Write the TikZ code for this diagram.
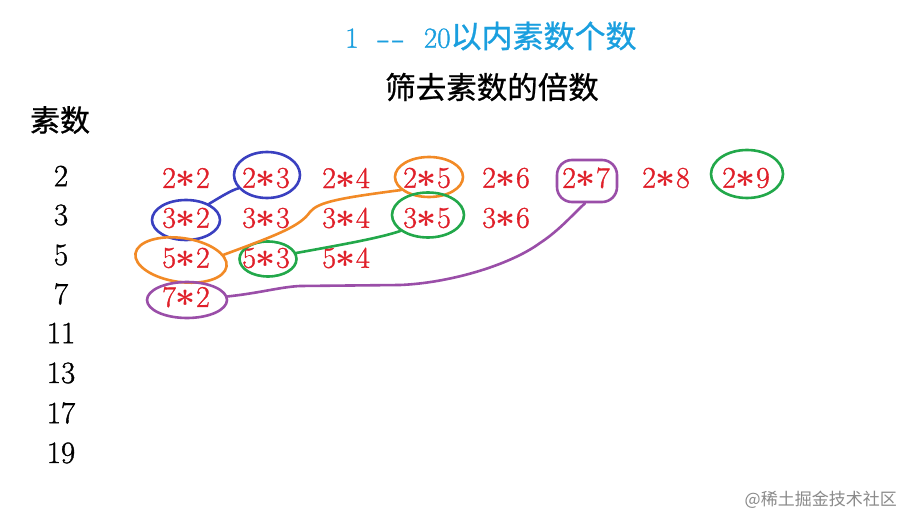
\documentclass[tikz,border=0pt]{standalone}
\usepackage{fontspec}
\newfontfamily\cjk{Noto Sans CJK SC}
\newfontfamily\cjkb{Noto Sans CJK SC}[FakeBold=0.8]
\newfontfamily\heavyrm{Latin Modern Roman}[FakeBold=1.2]
\usetikzlibrary{shapes.geometric}
\definecolor{tblue}{HTML}{1A9FDF}
\definecolor{pred}{HTML}{E0202A}
\definecolor{cblue}{HTML}{3A40C0}
\definecolor{corange}{HTML}{F28A26}
\definecolor{cgreen}{HTML}{22A84A}
\definecolor{cpurple}{HTML}{9A4EA8}
\definecolor{wgray}{HTML}{8A8A8A}
\newcommand\mystar{\scalebox{1.4}{\boldmath$\ast$}}
\newcommand\myhy{\scalebox{1.45}[1]{-}}
\begin{document}
\begin{tikzpicture}[x=1pt,y=-1pt,
  prod/.style={text=pred, font=\heavyrm\fontsize{30}{32}\selectfont, inner sep=0pt},
  prime/.style={font=\heavyrm\fontsize{31}{32}\selectfont, inner sep=0pt},
  ring/.style={draw=#1, ellipse, line width=2.6pt, inner sep=0pt},
  link/.style={draw=#1, line width=2.6pt, line cap=round},
]
\useasboundingbox (0,0) rectangle (912,529);
\fill[white] (0,0) rectangle (912,529);

% titles
\node[anchor=west, text=tblue, inner sep=0pt, font=\heavyrm\fontsize{29}{30}\selectfont] (title) at (345,36)
  {1\hspace{19pt}\myhy\kern2pt\myhy\hspace{19pt}20{\cjkb\fontsize{31}{32}\selectfont 以内素数个数}};
\node[inner sep=0pt, font=\cjkb\fontsize{30.5}{32}\selectfont] (sub) at (492,87) {筛去素数的倍数};
\node[inner sep=0pt, font=\cjkb\fontsize{30}{32}\selectfont] (head) at (60,120) {素数};

% primes
\node[prime] (n2) at (61,176) {2};
\node[prime] (n3) at (61,215) {3};
\node[prime] (n5) at (61,255) {5};
\node[prime] (n7) at (61,294) {7};
\node[prime] (n11) at (61,333) {11};
\node[prime] (n13) at (61,373) {13};
\node[prime] (n17) at (61,413) {17};
\node[prime] (n19) at (61,453) {19};

% products
\foreach \k/\x in {2/186,3/266,4/346,5/427,6/506,7/586,8/666,9/746}
  \node[prod] (p2\k) at (\x,178) {2\mystar\k};
\foreach \k/\x in {2/186,3/266,4/346,5/427,6/506}
  \node[prod] (p3\k) at (\x,218) {3\mystar\k};
\foreach \k/\x in {2/186,3/266,4/346}
  \node[prod] (p5\k) at (\x,258) {5\mystar\k};
\node[prod] (p72) at (186,297) {7\mystar2};

% rings
\node[ring=cblue, minimum width=66, minimum height=46] (c23) at (267,175) {};
\node[ring=cblue, minimum width=68, minimum height=40] (c32) at (186,220) {};
\node[ring=corange, minimum width=68, minimum height=40] (c25) at (429,177) {};
\node[ring=corange, minimum width=92, minimum height=44, rotate=-8] (c52) at (181,260) {};
\node[ring=cgreen, minimum width=72, minimum height=45] (c35) at (428,215) {};
\node[ring=cgreen, minimum width=57, minimum height=35] (c53) at (268,259) {};
\node[ring=cgreen, minimum width=72, minimum height=48] (c29) at (747,174) {};
\node[draw=cpurple, line width=2.6pt, rounded corners=15pt, minimum width=60, minimum height=42, inner sep=0pt] (c27) at (587,181) {};
\node[ring=cpurple, minimum width=80, minimum height=36] (c72) at (187,300) {};

% links
\draw[link=cblue] (c32.35) .. controls (222,196) and (232,190) .. (c23.205);
\draw[link=corange] (c52.15) .. controls (280,234) and (300,226) .. (310,212)
  .. controls (318,202) and (340,198) .. (c25.205);
\draw[link=cgreen] (c53.12) .. controls (340,245) and (380,238) .. (c35.210);
\draw[link=cpurple] (c72.5) .. controls (260,293) and (280,287) .. (300,286)
  -- (400,285) .. controls (450,283) and (510,265) .. (540,243)
  .. controls (560,230) and (575,212) .. (c27.265);

% watermark
\node[anchor=east, inner sep=0pt, text=wgray, font=\cjk\fontsize{17}{18}\selectfont] (wm) at (897,500) {@稀土掘金技术社区};
\end{tikzpicture}
\end{document}
